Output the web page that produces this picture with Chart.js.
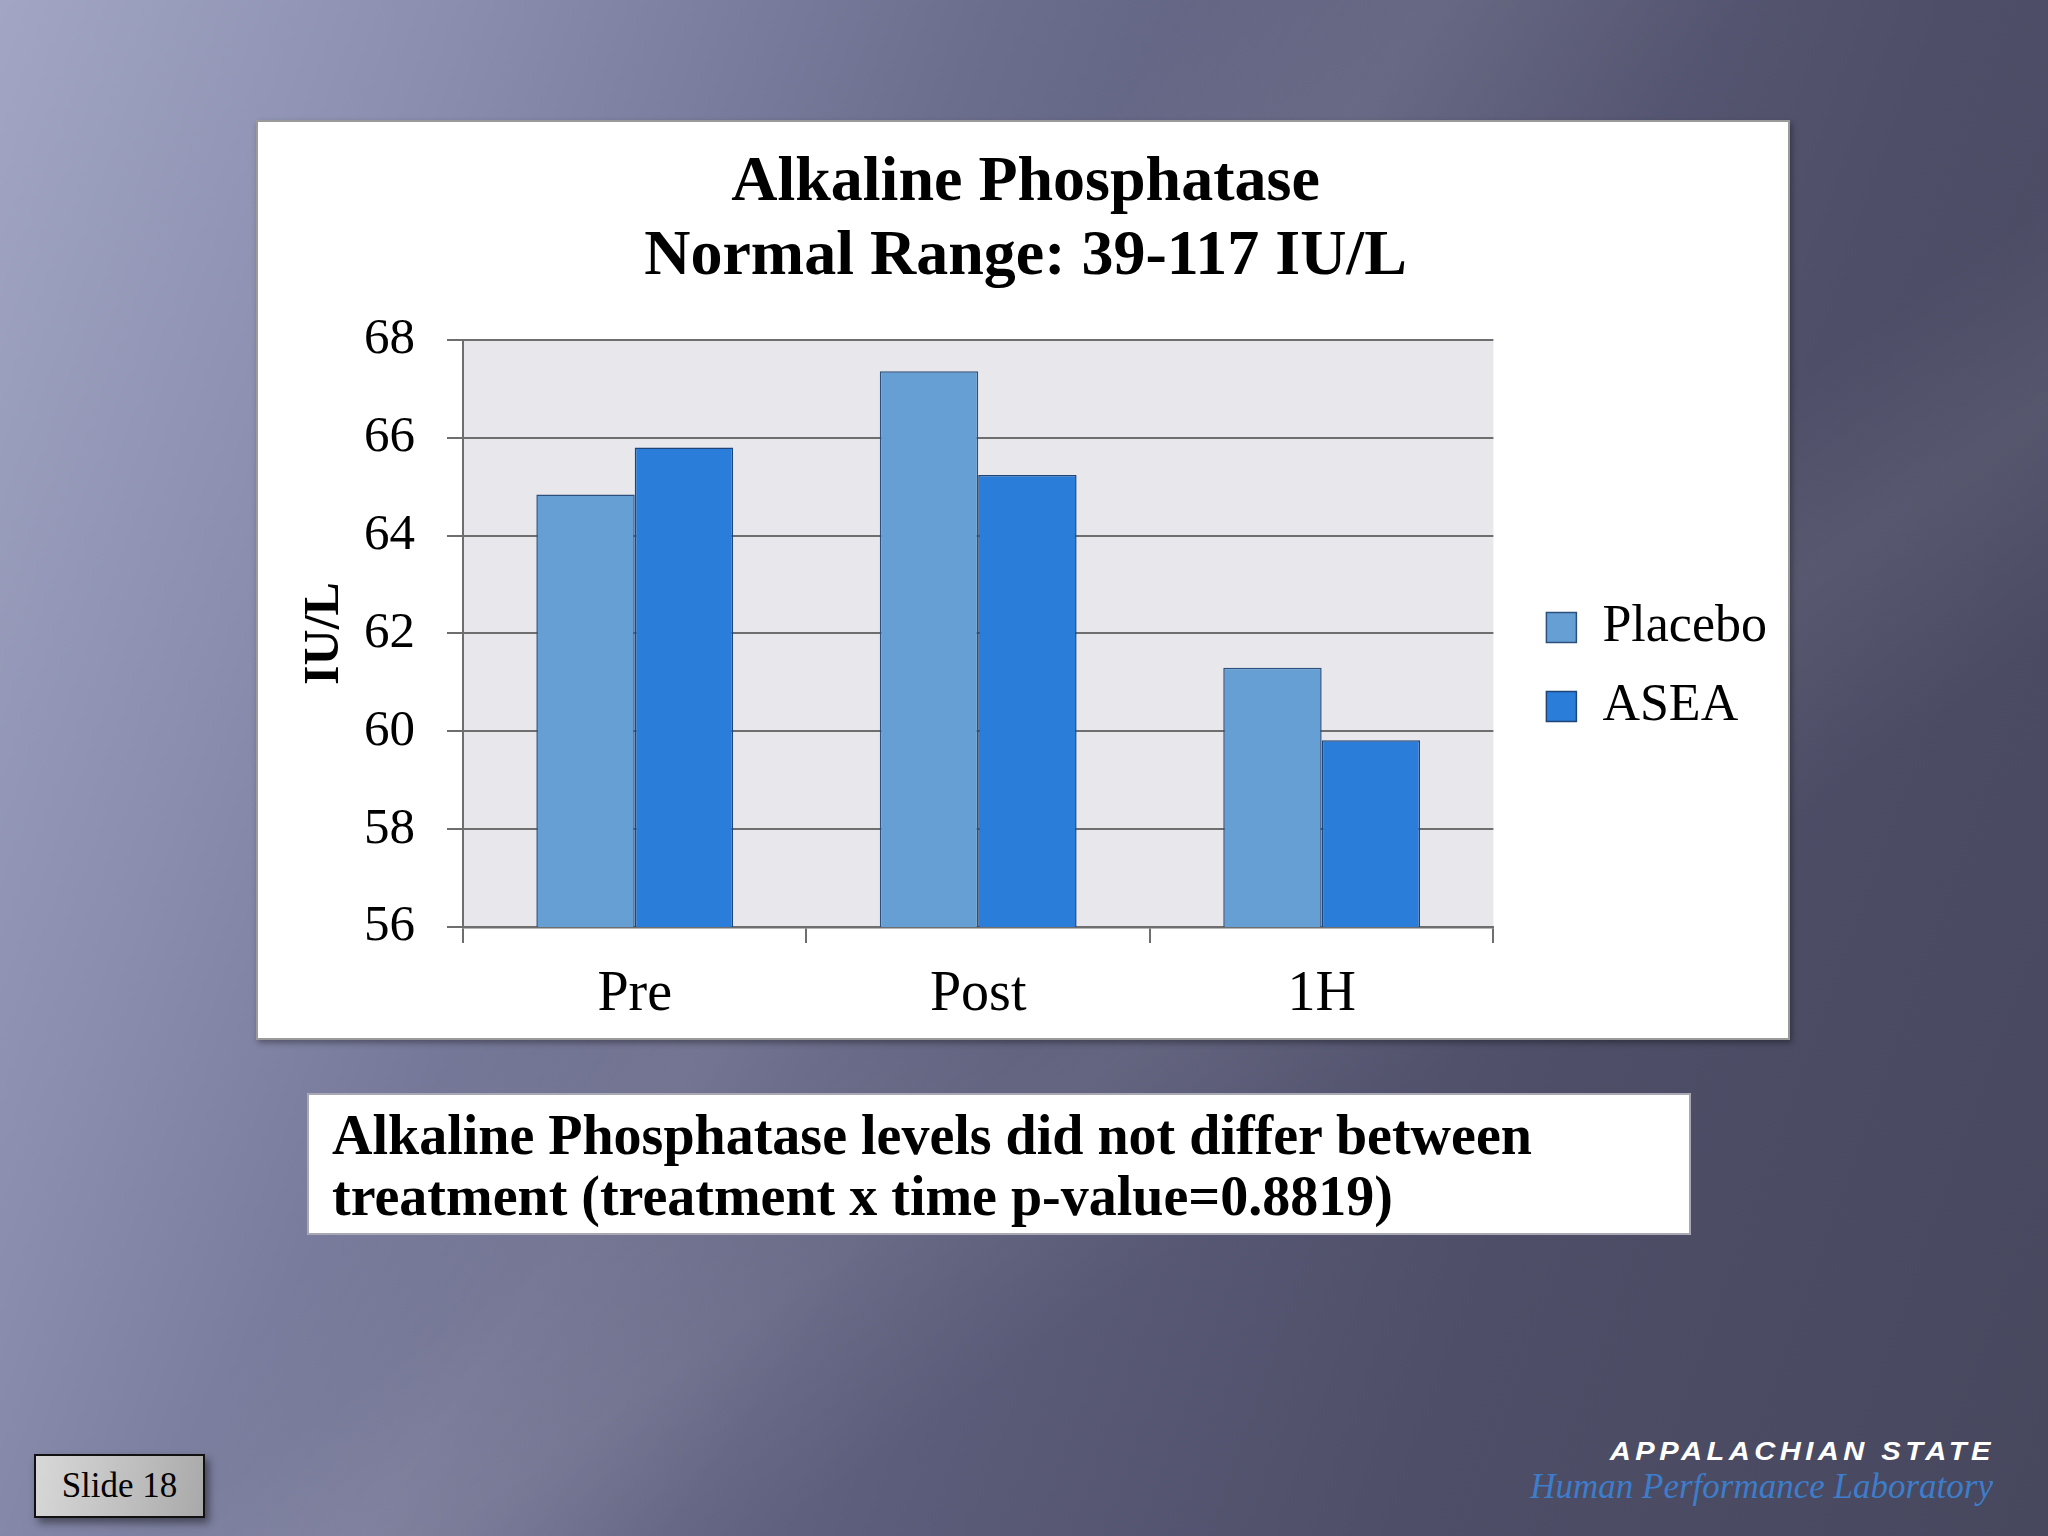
<!DOCTYPE html>
<html>
<head>
<meta charset="utf-8">
<script src="https://cdn.jsdelivr.net/npm/chart.js@4"></script>
<style>
  html, body { margin: 0; padding: 0; }
  body {
    width: 2048px; height: 1536px; overflow: hidden; position: relative;
    background:
      linear-gradient(125deg, rgba(255,255,255,0) 38%, rgba(255,255,255,0.07) 46%, rgba(255,255,255,0) 56%),
      linear-gradient(145deg, rgba(255,255,255,0) 55%, rgba(255,255,255,0.06) 62%, rgba(255,255,255,0) 70%),
      linear-gradient(110deg, #a2a6c4 0%, #8a8dae 18%, #6c6e8e 38%, #5c5d7a 55%, #4e4e68 75%, #47475e 100%);
    font-family: 'Liberation Serif', serif;
  }
  #box {
    position: absolute; left: 256px; top: 120px; width: 1530px; height: 916px;
    background: #fff; border: 2px solid #9a9a9a; box-shadow: 2px 3px 6px rgba(0,0,0,0.35);
  }
  #caption {
    position: absolute; left: 307px; top: 1093px; width: 1343px; height: 120px;
    background: #fff; border: 2px solid #a8a8b4; padding: 10px 14px 8px 23px;
    font-weight: bold; font-size: 56px; line-height: 61px; color: #000;
  }
  #slide {
    position: absolute; left: 34px; top: 1454px; width: 167px; height: 60px;
    border: 2px solid #111; background: linear-gradient(100deg, #d8d8d8, #bdbdbd 60%, #a9a9a9);
    box-shadow: 4px 5px 8px rgba(0,0,0,0.45);
    font-size: 35px; line-height: 60px; text-align: center; color: #000;
  }
  #logo1 {
    position: absolute; right: 53px; top: 1436px; color: #fff;
    font-family: 'Liberation Sans', sans-serif; font-weight: bold; font-style: italic;
    font-size: 26px; letter-spacing: 4px; transform: scaleX(1.12); transform-origin: right;
  }
  #logo2 {
    position: absolute; right: 55px; top: 1467px; color: #3d7dca;
    font-style: italic; font-size: 35px;
  }
</style>
</head>
<body>
<div id="box"><canvas id="chart" width="1530" height="916"></canvas></div>
<div id="caption">Alkaline Phosphatase levels did not differ between treatment (treatment x time p-value=0.8819)</div>
<div id="slide">Slide 18</div>
<div id="logo1">APPALACHIAN STATE</div>
<div id="logo2">Human Performance Laboratory</div>
<script>
// ─── DATA ─────────────────────────────────────────────────
const categories = ['Pre', 'Post', '1H'];
const placebo    = [64.84, 67.36, 61.30];
const asea       = [65.80, 65.24, 59.82];
const titleLines = ['Alkaline Phosphatase', 'Normal Range: 39-117 IU/L'];
const yMin = 56, yMax = 68, yStep = 2;

Chart.defaults.font.family = "'Liberation Serif', serif";
Chart.defaults.color = '#000';

const GRID = '#6e6e6e';

// grey plot background + legend/title nudge
const plotBg = {
    id: 'plotBg',
    beforeDraw(chart) {
        const { ctx, chartArea: a } = chart;
        ctx.save();
        ctx.fillStyle = '#e8e7eb';
        ctx.fillRect(a.left, a.top, a.right - a.left, a.bottom - a.top);
        ctx.restore();
    },
    afterLayout(chart) {
        const l = chart.legend;
        const dx = 26, dy = 87;
        l.left += dx; l.right += dx; l.top += dy; l.bottom += dy;
        const t = chart.titleBlock;
        t.left += 21; t.right += 21;
    },
};

new Chart(document.getElementById('chart'), {
    type: 'bar',
    data: {
        labels: categories,
        datasets: [
            { label: 'Placebo', data: placebo, backgroundColor: '#659fd3', borderColor: '#2d4f7e', borderWidth: 1.5, borderSkipped: false },
            { label: 'ASEA',    data: asea,    backgroundColor: '#2a7ed9', borderColor: '#1f4478', borderWidth: 1.5, borderSkipped: false },
        ],
    },
    options: {
        responsive: false,
        animation: false,
        layout: { padding: { left: 0, right: 37, top: 0, bottom: 0 } },
        datasets: { bar: { categoryPercentage: 0.573, barPercentage: 1.0 } },
        plugins: {
            title: {
                display: true,
                text: titleLines,
                color: '#000',
                font: { size: 64, weight: 'bold', lineHeight: 1.164 },
                padding: { top: 24, bottom: 45 },
            },
            legend: {
                position: 'right',
                labels: {
                    boxWidth: 30, boxHeight: 30, padding: 27,
                    font: { size: 52 }, color: '#000',
                },
            },
            tooltip: { enabled: false },
        },
        scales: {
            x: {
                grid: { display: true, drawOnChartArea: false, drawTicks: true, tickLength: 16, color: GRID, lineWidth: 2, offset: true },
                border: { display: true, color: GRID, width: 2.5 },
                ticks: { font: { size: 56 }, color: '#000', padding: 19 },
                afterFit(scale) { scale.height = 111; },
            },
            y: {
                min: yMin, max: yMax,
                ticks: { stepSize: yStep, font: { size: 51 }, color: '#000', padding: 32 },
                grid: { color: GRID, lineWidth: 2, tickLength: 16 },
                border: { display: true, color: GRID, width: 2 },
                title: { display: true, text: 'IU/L', font: { size: 50, weight: 'bold' }, color: '#000', padding: { top: 37, bottom: 0 } },
                afterFit(scale) { scale.width = 205; },
            },
        },
    },
    plugins: [plotBg],
});
</script>
</body>
</html>
